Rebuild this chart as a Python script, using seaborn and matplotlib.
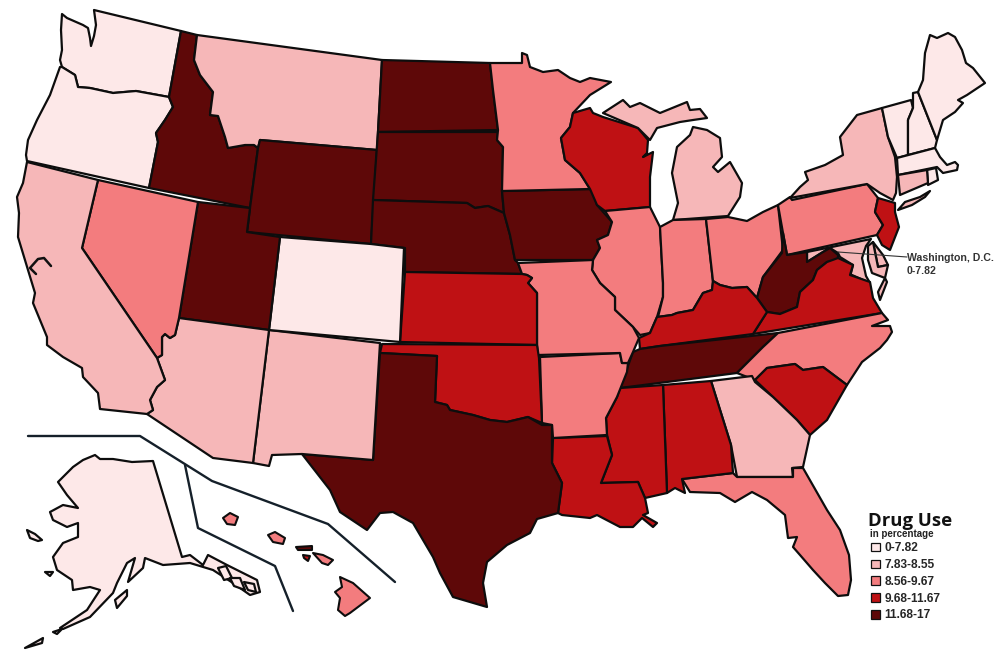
import matplotlib
matplotlib.use('Agg')
import matplotlib.pyplot as plt
from matplotlib.patches import Patch
import seaborn as sns

# clases del mapa, de menor a mayor
bin_labels = ['0-7.82', '7.83-8.55', '8.56-9.67', '9.68-11.67', '11.68-17']
bin_colors = ['#FDE8E8', '#F6B7B8', '#F37C7E', '#BF1114', '#5E0808']

# clase de cada estado
state_bins = {
    'WA': 0, 'OR': 0, 'CO': 0, 'ME': 0, 'NH': 0, 'VT': 0, 'MA': 0, 'RI': 0,
    'CA': 1, 'AZ': 1, 'NM': 1, 'MT': 1, 'NY': 1, 'CT': 1, 'MI_U': 1, 'MI_L': 1, 'GA': 1,
    'MD': 1, 'MD_E': 1, 'DE': 1, 'LI': 1, 'VA_E': 1,
    'NV': 2, 'MN': 2, 'MO': 2, 'AR': 2, 'IL': 2, 'IN': 2, 'OH': 2, 'PA': 2, 'NC': 2, 'FL': 2,
    'KS': 3, 'OK': 3, 'WI': 3, 'KY': 3, 'VA': 3, 'NJ': 3, 'LA': 3, 'MS': 3, 'AL': 3, 'SC': 3,
    'ID': 4, 'WY': 4, 'UT': 4, 'ND': 4, 'SD': 4, 'NE': 4, 'IA': 4, 'TX': 4, 'TN': 4, 'WV': 4,
}

# contornos
outlines = {
    'WA': [(62,14),(67,18),(83,25),(88,28),(90,38),(91,46),(94,36),(96,25),(94,10),(181,31),(169,97),(136,91),(113,93),(90,88),(78,87),(75,75),(62,67),(60,60),(62,50),(61,30)],
    'OR': [(60,67),(62,67),(75,75),(78,87),(90,88),(113,93),(136,91),(169,97),(173,107),(165,120),(156,133),(158,142),(149,188),(27,161),(26,155),(28,140),(37,120),(50,95)],
    'ID': [(181,31),(197,35),(194,60),(200,75),(213,92),(210,115),(218,116),(225,137),(228,148),(245,145),(254,145),(258,148),(250,208),(149,188),(158,142),(156,133),(165,120),(173,107),(169,97)],
    'MT': [(197,35),(382,60),(377,150),(260,140),(258,148),(254,145),(245,145),(228,148),(225,137),(218,116),(210,115),(213,92),(200,75),(194,60)],
    'WY': [(260,140),(377,150),(371,244),(247,232),(250,208),(258,148)],
    'ND': [(382,60),(490,63),(493,90),(498,130),(378,132)],
    'SD': [(378,132),(498,132),(497,140),(503,147),(502,191),(504,213),(488,206),(475,208),(467,203),(373,200)],
    'NE': [(373,200),(467,203),(475,208),(488,206),(504,213),(510,235),(515,260),(518,263),(522,274),(405,272),(405,248),(371,244)],
    'IA': [(502,191),(592,189),(597,205),(612,222),(608,235),(597,240),(600,248),(593,260),(515,260),(510,235),(504,213)],
    'MN': [(490,63),(522,63),(522,53),(527,55),(530,67),(543,72),(558,70),(570,78),(580,82),(590,78),(611,82),(590,95),(573,113),(570,127),(561,138),(565,160),(580,173),(590,189),(502,191),(503,147),(497,140),(498,130),(493,90)],
    'WI': [(573,113),(590,108),(593,113),(603,117),(638,128),(648,140),(647,153),(643,157),(653,152),(650,177),(650,207),(605,211),(597,205),(590,189),(580,173),(565,160),(561,138),(570,127)],
    'MI_U': [(603,113),(623,100),(630,107),(640,103),(660,113),(687,102),(690,110),(700,109),(707,118),(693,120),(680,122),(657,128),(650,140),(638,128)],
    'MI_L': [(693,127),(690,135),(677,147),(672,173),(678,203),(673,220),(728,216),(740,197),(742,183),(730,162),(718,172),(713,167),(722,157),(720,138),(707,130)],
    'IL': [(605,211),(650,207),(660,227),(663,283),(663,297),(657,317),(650,333),(640,335),(633,327),(615,310),(615,297),(600,283),(592,270),(593,260),(600,248),(597,240),(608,235),(612,222)],
    'IN': [(660,227),(673,220),(706,219),(713,282),(712,290),(703,293),(693,310),(677,313),(672,315),(658,317),(663,297),(663,283)],
    'OH': [(706,219),(728,217),(747,221),(763,212),(778,205),(783,250),(763,277),(757,298),(747,287),(732,288),(720,285),(713,281)],
    'PA': [(778,205),(790,197),(792,200),(867,184),(878,198),(875,212),(883,225),(877,235),(787,255),(783,233)],
    'NY': [(790,198),(800,187),(808,180),(805,172),(825,165),(843,155),(840,137),(857,115),(882,108),(888,137),(895,157),(897,177),(896,193),(893,200),(880,193),(867,184)],
    'LI': [(898,210),(905,202),(920,197),(930,191),(925,197),(912,205)],
    'VT': [(882,108),(911,100),(913,108),(908,120),(908,155),(897,158),(888,137)],
    'NH': [(913,93),(918,92),(937,140),(935,148),(908,155),(908,120),(913,108)],
    'ME': [(918,92),(923,80),(925,53),(930,35),(937,38),(948,33),(955,37),(962,50),(966,63),(973,68),(985,83),(967,95),(958,100),(963,103),(955,112),(943,120),(937,140)],
    'MA': [(897,158),(935,148),(940,157),(947,165),(955,162),(958,165),(957,170),(943,173),(937,167),(898,175)],
    'RI': [(927,170),(936,168),(938,180),(928,185)],
    'CT': [(898,175),(927,170),(928,183),(900,195)],
    'NJ': [(878,198),(895,203),(895,212),(899,227),(890,250),(882,245),(877,235),(883,225),(875,212)],
    'DE': [(873,242),(878,267),(888,265),(883,255)],
    'MD': [(807,252),(871,239),(866,246),(862,258),(866,276),(870,283),(852,275),(850,277),(853,265),(840,257),(838,253),(830,248),(823,252),(807,262)],
    'MD_E': [(868,246),(873,242),(878,267),(888,265),(885,278),(872,273),(868,260)],
    'VA_E': [(885,278),(887,282),(880,300),(878,292)],
    'WV': [(783,233),(787,255),(807,252),(807,262),(823,252),(830,248),(838,255),(838,260),(827,262),(817,270),(813,280),(800,292),(797,307),(780,314),(767,312),(757,298),(763,277),(782,253)],
    'VA': [(838,258),(853,265),(850,275),(870,282),(873,298),(882,313),(753,334),(767,312),(780,314),(797,307),(800,292),(813,280),(817,270),(827,262)],
    'KY': [(713,281),(720,285),(732,288),(747,287),(757,298),(767,312),(753,334),(660,346),(640,349),(639,338),(650,333),(657,317),(672,315),(677,313),(693,310),(703,293),(712,290)],
    'TN': [(778,333),(763,347),(737,373),(620,388),(633,352),(640,349),(660,346)],
    'NC': [(778,333),(882,313),(888,320),(872,326),(890,326),(892,332),(887,340),(880,348),(862,362),(847,385),(823,367),(803,370),(795,364),(767,368),(755,380),(737,373),(763,347)],
    'SC': [(755,380),(767,368),(795,364),(803,370),(823,367),(847,385),(827,420),(810,435),(797,420),(773,397)],
    'GA': [(711,381),(752,376),(755,382),(773,397),(797,420),(810,435),(803,467),(792,468),(793,477),(737,477),(731,445)],
    'FL': [(682,479),(733,473),(737,477),(793,477),(793,468),(803,468),(827,510),(840,530),(849,555),(851,580),(848,595),(838,596),(825,583),(813,570),(800,555),(793,547),(797,537),(788,538),(785,515),(767,500),(752,492),(735,502),(720,493),(690,492)],
    'AL': [(663,385),(711,381),(731,445),(733,473),(682,479),(685,493),(675,488),(667,493)],
    'MS': [(620,388),(663,385),(667,493),(645,498),(638,482),(601,483),(612,455),(607,435),(606,418),(617,397)],
    'LA': [(553,438),(607,436),(612,455),(601,483),(638,482),(645,498),(648,513),(643,515),(657,523),(653,527),(642,518),(633,527),(620,527),(597,515),(590,518),(562,515),(558,513),(562,483),(552,463)],
    'AR': [(540,357),(620,353),(622,363),(628,363),(627,372),(617,397),(606,418),(607,435),(553,438),(552,425),(542,423)],
    'MO': [(518,263),(593,260),(592,270),(600,283),(615,297),(615,310),(633,327),(639,338),(633,352),(628,363),(622,363),(620,353),(538,355),(537,345),(537,293),(528,283),(532,278),(527,275),(522,274)],
    'KS': [(405,272),(522,274),(527,275),(532,278),(528,283),(537,293),(537,345),(400,342)],
    'OK': [(382,344),(537,345),(539,358),(542,423),(528,417),(507,422),(490,420),(473,415),(450,410),(447,405),(435,402),(437,356),(380,353)],
    'TX': [(380,353),(437,356),(435,402),(447,405),(450,410),(473,415),(490,420),(507,422),(528,417),(542,425),(552,425),(552,463),(562,483),(558,513),(537,519),(530,533),(507,545),(487,562),(483,583),(487,607),(453,597),(440,573),(433,557),(413,523),(393,512),(380,513),(367,530),(340,512),(330,490),(302,454),(373,460)],
    'NM': [(269,330),(380,343),(373,460),(302,454),(272,455),(269,466),(253,463)],
    'CO': [(280,237),(371,244),(404,248),(400,342),(269,330)],
    'UT': [(198,202),(250,208),(247,232),(280,237),(269,330),(179,318)],
    'AZ': [(179,318),(269,330),(253,463),(213,458),(147,414),(153,410),(150,400),(157,387),(165,380),(157,358),(162,355),(162,337),(165,334),(170,338),(175,335)],
    'NV': [(98,180),(198,202),(179,318),(175,335),(170,338),(165,334),(162,337),(162,355),(157,358),(82,248)],
    'CA': [(27,162),(98,180),(82,248),(157,358),(165,380),(157,387),(150,400),(153,410),(147,414),(100,409),(98,393),(83,377),(82,368),(63,357),(47,345),(47,337),(33,303),(35,293),(28,270),(18,237),(19,213),(17,197),(23,183)],
}

alaska_main = [(95,455),(100,459),(113,459),(132,462),(153,461),(182,557),(190,555),(203,565),(208,555),(227,565),(257,580),(260,592),(250,595),(233,583),(213,570),(190,563),(163,565),(145,558),(143,568),(128,582),(135,558),(127,563),(117,583),(113,593),(90,617),(63,629),(60,628),(87,610),(100,590),(90,587),(73,590),(72,580),(57,570),(53,557),(63,543),(78,537),(78,523),(67,527),(53,520),(50,512),(63,505),(78,508),(67,495),(58,482),(73,467),(83,460)]
alaska_islands = [
    [(27,530),(35,534),(42,540),(38,541),(30,538)],
    [(45,572),(53,572),(50,576)],
    [(115,600),(127,590),(127,596),(117,608)],
    [(25,648),(43,638),(42,643)],
    [(53,632),(62,629),(57,634)],
    [(218,568),(226,566),(232,578),(224,580)],
    [(230,578),(240,578),(245,590),(234,586)],
    [(244,582),(254,584),(256,592),(248,590)],
]
hawaii = {
    2: [[(223,518),(230,513),(238,517),(235,525),(227,524)],
        [(268,535),(275,532),(285,538),(283,544),(273,542)],
        [(313,553),(323,555),(333,560),(328,565),(322,563)],
        [(340,577),(353,583),(370,598),(350,613),(345,616),(338,610),(340,598),(335,592),(342,587)]],
    3: [[(303,555),(310,556),(308,561),(304,558)]],
    4: [[(296,547),(312,546),(312,550),(298,550)]],
}

# lineas que separan Alaska y Hawai
divider_one_x = [28, 140, 212, 328, 395]
divider_one_y = [436, 436, 481, 524, 582]
divider_two_x = [185, 198, 275, 293]
divider_two_y = [465, 528, 566, 611]
dc_line_x = [838, 907]
dc_line_y = [252, 257]
bay_x = [36, 30, 38, 44, 51]
bay_y = [274, 268, 259, 258, 266]

sns.set_theme(style='white')
plt.rcParams['font.family'] = ['Liberation Sans', 'DejaVu Sans']
palette = sns.color_palette(bin_colors)

fig, ax = plt.subplots(figsize=(10, 6.67), dpi=100)
fig.subplots_adjust(left=0, right=1, bottom=0, top=1)


def dibuja(puntos, clase, lw=1.6):
    xs, ys = zip(*puntos)
    ax.fill(xs, ys, facecolor=palette[clase], edgecolor='#0d0d0d', linewidth=lw, joinstyle='round')


for estado, puntos in outlines.items():
    dibuja(puntos, state_bins[estado])
dibuja(alaska_main, 0)
for isla in alaska_islands:
    dibuja(isla, 0)
for clase, islas in hawaii.items():
    for isla in islas:
        dibuja(isla, clase, lw=1.5)

sns.lineplot(x=divider_one_x, y=divider_one_y, sort=False, estimator=None, color='#15202a', lw=1.7, ax=ax)
sns.lineplot(x=divider_two_x, y=divider_two_y, sort=False, estimator=None, color='#15202a', lw=1.7, ax=ax)
sns.lineplot(x=dc_line_x, y=dc_line_y, sort=False, estimator=None, color='#333333', lw=0.8, ax=ax)
sns.lineplot(x=bay_x, y=bay_y, sort=False, estimator=None, color='#111111', lw=1.8, ax=ax)

ax.set_xlim(0, 1000)
ax.set_ylim(667, 0)
ax.axis('off')

ax.text(907, 258, 'Washington, D.C.', fontsize=7.6, fontweight='bold', color='#333333', va='center')
ax.text(907, 271, bin_labels[0], fontsize=7.6, fontweight='bold', color='#333333', va='center')

ax.text(868, 521, 'Drug Use', fontsize=13.3, fontweight='bold', color='#111111', va='center', family='Open Sans')
ax.text(870, 534, 'in percentage', fontsize=7, fontweight='bold', color='#222222', va='center')

handles = [Patch(facecolor=c, edgecolor='#111111', linewidth=0.9, label=l) for c, l in zip(palette, bin_labels)]
ax.legend(handles=handles, loc='upper left', bbox_to_anchor=(0.871, 0.187), bbox_transform=ax.transAxes,
          frameon=False, prop={'size': 8.6, 'weight': 'bold'}, handlelength=0.75, handleheight=0.75,
          handletextpad=0.35, labelspacing=0.4, borderpad=0, borderaxespad=0)

plt.savefig('out.png', dpi=100)
